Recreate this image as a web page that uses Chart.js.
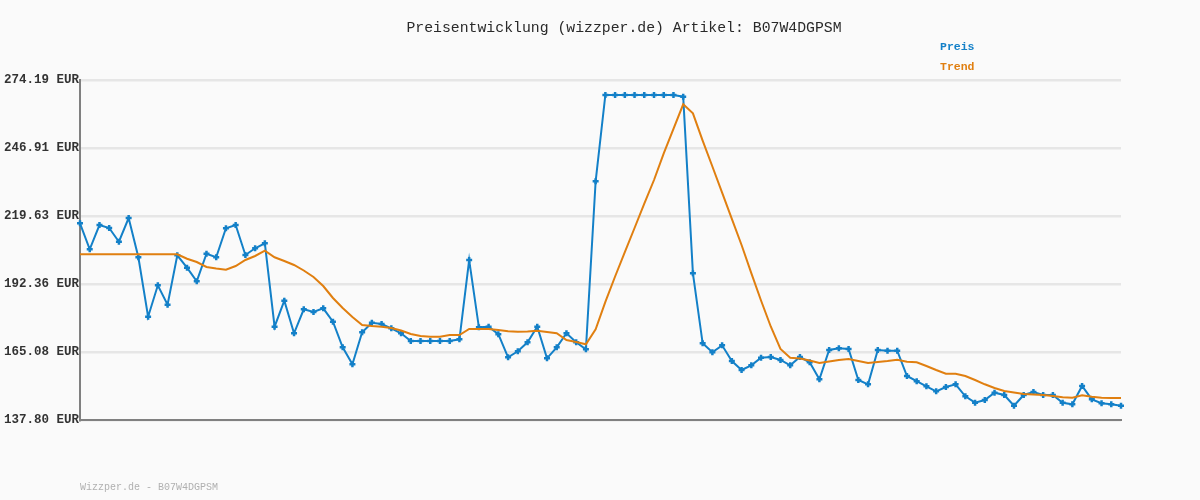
<!DOCTYPE html>
<html>
<head>
    <title>Preisentwicklung B07W4DGPSM</title>
    <style>
        html, body { margin: 0; padding: 0; background: #fafafa; }
        #wrap { width: 1200px; height: 500px; }
    </style>
</head>
<body>
    <div id="wrap">
        <canvas id="priceChart" width="1200" height="500"></canvas>
    </div>

    <script src="https://cdn.jsdelivr.net/npm/chart.js"></script>
    <script type="text/javascript">
        // values
        const preis = [
            216.71, 206.28, 216.02, 214.82, 209.32, 218.83, 203.07, 179.24, 191.83, 184.05,
            203.87, 198.89, 193.44, 204.51, 203.07, 214.70, 216.02, 203.99, 206.68, 208.68,
            175.23, 185.66, 172.58, 182.21, 181.12, 182.61, 177.23, 166.96, 160.14, 172.98,
            176.83, 176.31, 174.58, 172.58, 169.49, 169.49, 169.49, 169.49, 169.49, 170.17,
            201.98, 174.99, 175.23, 172.22, 162.95, 165.36, 168.97, 175.23, 162.55, 166.96,
            172.58, 168.97, 166.16, 233.55, 268.17, 268.17, 268.17, 268.17, 268.17, 268.17,
            268.17, 268.17, 267.49, 196.65, 168.57, 164.96, 167.76, 161.47, 157.86, 159.74,
            162.79, 163.07, 161.87, 159.74, 163.07, 160.95, 154.13, 165.88, 166.56, 166.28,
            153.84, 152.12, 165.88, 165.60, 165.60, 155.45, 153.36, 151.32, 149.31, 151.04,
            152.12, 147.31, 144.74, 145.82, 148.75, 147.83, 143.54, 147.83, 149.03, 147.83,
            147.83, 144.74, 144.10, 151.44, 146.10, 144.50, 144.10, 143.54
        ];
        const trend = [
            204.27, 204.27, 204.27, 204.27, 204.27, 204.27, 204.27, 204.27, 204.27, 204.27,
            204.27, 202.50, 201.18, 199.17, 198.57, 198.09, 199.58, 201.98, 203.59, 205.71,
            203.07, 201.58, 199.98, 197.77, 195.16, 191.55, 186.74, 182.73, 179.12, 175.91,
            175.51, 175.23, 174.70, 173.70, 172.30, 171.50, 171.21, 171.21, 171.90, 171.90,
            174.30, 174.30, 174.30, 173.90, 173.38, 173.22, 173.30, 173.62, 173.10, 172.58,
            169.89, 169.09, 168.17, 174.18, 185.17, 195.36, 205.11, 214.82, 224.57, 234.07,
            244.79, 254.61, 264.44, 260.83, 249.84, 239.49, 229.02, 218.47, 208.00, 196.73,
            185.74, 175.31, 166.28, 162.79, 162.47, 161.67, 160.66, 161.27, 161.87, 162.27,
            161.47, 160.66, 161.07, 161.47, 161.99, 161.19, 160.95, 159.46, 157.86, 156.37,
            156.37, 155.45, 153.84, 152.12, 150.64, 149.43, 148.83, 148.23, 148.03, 147.83,
            147.43, 146.91, 146.74, 147.71, 147.15, 146.74, 146.62, 146.62
        ];
        const categories = preis.map((v, i) => String(i + 1));
        const yTicks = [137.80, 165.08, 192.36, 219.63, 246.91, 274.19];

        const seriesNames = ['Preis', 'Trend'];
        const blue = '#1380c8';
        const orange = '#e07f10';
        const mono = '"Liberation Mono", "DejaVu Sans Mono", monospace';

        // title, legend and footer text drawn on the canvas
        const textPlugin = {
            id: 'texts',
            afterDraw(chart) {
                const ctx = chart.ctx;
                ctx.save();
                ctx.textBaseline = 'middle';

                ctx.fillStyle = '#2a2a2a';
                ctx.font = '14.8px ' + mono;
                ctx.textAlign = 'center';
                ctx.fillText('Preisentwicklung (wizzper.de) Artikel: B07W4DGPSM', 624, 28);

                ctx.textAlign = 'left';
                ctx.font = 'bold 11.5px ' + mono;
                ctx.fillStyle = blue;
                ctx.fillText(seriesNames[0], 940, 47);
                ctx.fillStyle = orange;
                ctx.fillText(seriesNames[1], 940, 67);

                ctx.font = '10px ' + mono;
                ctx.fillStyle = '#b0b0b0';
                ctx.fillText('Wizzper.de - B07W4DGPSM', 80, 487);
                ctx.restore();
            }
        };

        const ctx = document.getElementById('priceChart');
        window.priceChart = new Chart(ctx, {
            type: 'line',
            data: {
                labels: categories,
                datasets: [{
                    label: seriesNames[1],
                    data: trend,
                    borderColor: orange,
                    borderWidth: 2,
                    pointRadius: 0,
                    tension: 0,
                    fill: false
                }, {
                    label: seriesNames[0],
                    data: preis,
                    borderColor: blue,
                    backgroundColor: blue,
                    borderWidth: 2,
                    pointStyle: 'cross',
                    pointRadius: 3,
                    pointBorderWidth: 2.5,
                    tension: 0,
                    fill: false
                }]
            },
            plugins: [textPlugin],
            options: {
                responsive: false,
                animation: false,
                layout: {
                    padding: { top: 80, bottom: 80, left: 0, right: 79 }
                },
                plugins: {
                    legend: { display: false },
                    title: { display: false },
                    tooltip: { enabled: false }
                },
                scales: {
                    x: {
                        offset: false,
                        grid: { display: false, drawTicks: false },
                        border: { display: true, color: '#808080', width: 2 },
                        ticks: { display: false },
                        afterFit(scale) { scale.height = 0; }
                    },
                    y: {
                        min: yTicks[0],
                        max: yTicks[yTicks.length - 1],
                        afterBuildTicks(scale) {
                            scale.ticks = yTicks.map(v => ({ value: v }));
                        },
                        afterFit(scale) { scale.width = 80; },
                        grid: { color: '#e6e6e6', lineWidth: 2.5, drawTicks: false },
                        border: { display: true, color: '#808080', width: 2 },
                        ticks: {
                            padding: 1,
                            color: '#333333',
                            font: { family: mono, size: 12.5, weight: 'bold' },
                            callback: (v) => Number(v).toFixed(2) + ' EUR'
                        }
                    }
                }
            }
        });
    </script>
</body>
</html>
